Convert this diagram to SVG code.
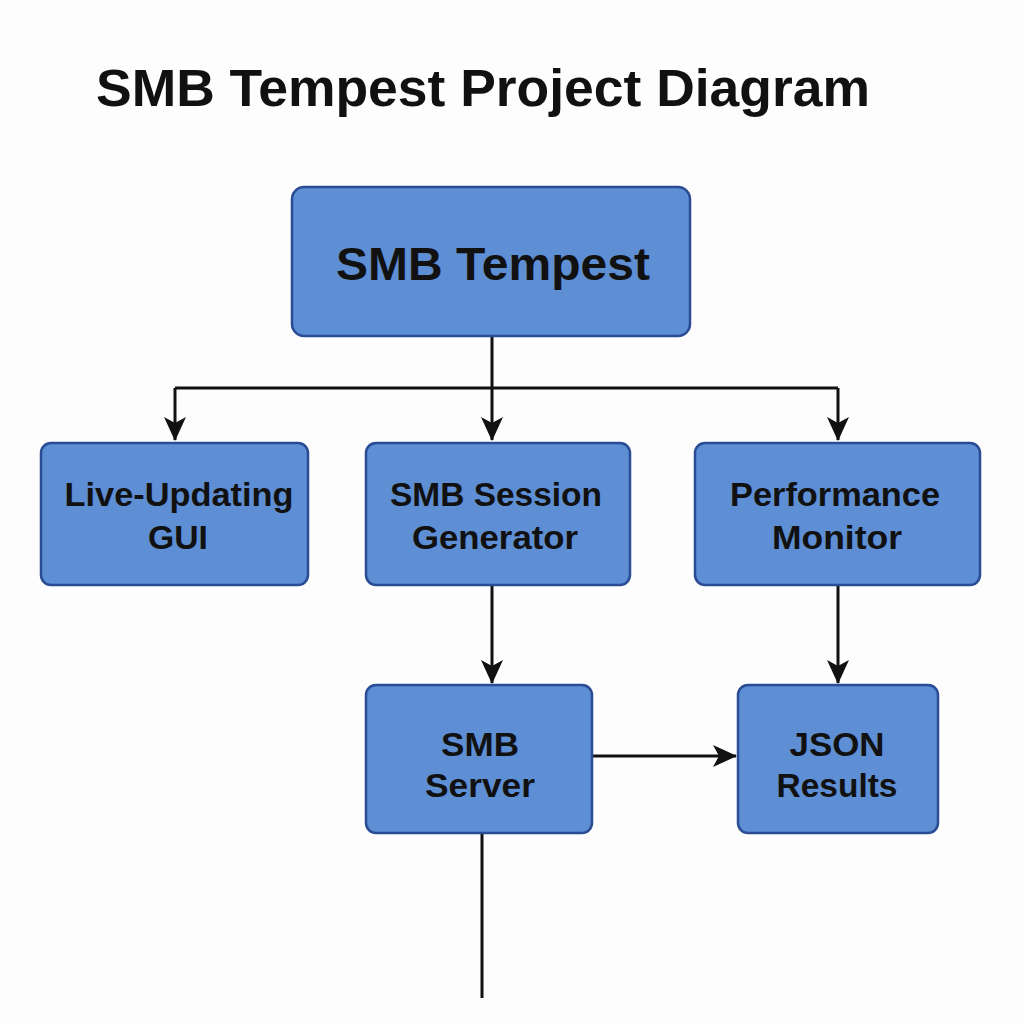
<svg xmlns="http://www.w3.org/2000/svg" width="1024" height="1024" viewBox="0 0 1024 1024">
<style>
.box{fill:#5e8ed3;stroke:#2a4c94;stroke-width:2.5}
.lbl{font-family:"Liberation Sans",Arial,sans-serif;font-weight:bold;fill:#111;text-anchor:middle;font-size:33px}
.ln{stroke:#111;stroke-width:3;fill:none}
</style>
<defs>
<marker id="ah" markerWidth="24" markerHeight="22" refX="23" refY="11" orient="auto" markerUnits="userSpaceOnUse" viewBox="0 0 24 22">
<path d="M0,0 L24,11 L0,22 L6,11 Z" fill="#111"/>
</marker>
</defs>
<rect width="1024" height="1024" fill="#fdfdfd"/>
<text x="96" y="106" font-family="Liberation Sans,Arial,sans-serif" font-weight="bold" font-size="51" fill="#111" textLength="774" lengthAdjust="spacingAndGlyphs">SMB Tempest Project Diagram</text>
<g id="connectors">
<path class="ln" d="M492,336 V388 M175,388 H838"/>
<path class="ln" d="M175,388 V440" marker-end="url(#ah)"/>
<path class="ln" d="M492,388 V440" marker-end="url(#ah)"/>
<path class="ln" d="M838,388 V440" marker-end="url(#ah)"/>
<path class="ln" d="M492,586 V683" marker-end="url(#ah)"/>
<path class="ln" d="M838,586 V683" marker-end="url(#ah)"/>
<path class="ln" d="M593,756 H736" marker-end="url(#ah)"/>
<path class="ln" d="M482,833 V998"/>
</g>
<g id="smb-tempest">
<rect class="box" x="292" y="187" width="398" height="149" rx="12"/>
<text class="lbl" x="493" y="280" style="font-size:47px" textLength="314" lengthAdjust="spacingAndGlyphs">SMB Tempest</text>
</g>
<g id="gui">
<rect class="box" x="41" y="443" width="267" height="142" rx="10"/>
<text class="lbl" x="179" y="506" textLength="229" lengthAdjust="spacingAndGlyphs">Live-Updating</text>
<text class="lbl" x="178" y="549" textLength="60" lengthAdjust="spacingAndGlyphs">GUI</text>
</g>
<g id="session-generator">
<rect class="box" x="366" y="443" width="264" height="142" rx="10"/>
<text class="lbl" x="496" y="506" textLength="212" lengthAdjust="spacingAndGlyphs">SMB Session</text>
<text class="lbl" x="495" y="549" textLength="166" lengthAdjust="spacingAndGlyphs">Generator</text>
</g>
<g id="performance-monitor">
<rect class="box" x="695" y="443" width="285" height="142" rx="10"/>
<text class="lbl" x="835" y="506" textLength="210" lengthAdjust="spacingAndGlyphs">Performance</text>
<text class="lbl" x="837" y="549" textLength="130" lengthAdjust="spacingAndGlyphs">Monitor</text>
</g>
<g id="smb-server">
<rect class="box" x="366" y="685" width="226" height="148" rx="10"/>
<text class="lbl" x="480" y="756" textLength="78" lengthAdjust="spacingAndGlyphs">SMB</text>
<text class="lbl" x="480" y="797" textLength="110" lengthAdjust="spacingAndGlyphs">Server</text>
</g>
<g id="json-results">
<rect class="box" x="738" y="685" width="200" height="148" rx="10"/>
<text class="lbl" x="837" y="756" textLength="95" lengthAdjust="spacingAndGlyphs">JSON</text>
<text class="lbl" x="837" y="797" textLength="121" lengthAdjust="spacingAndGlyphs">Results</text>
</g>
</svg>
